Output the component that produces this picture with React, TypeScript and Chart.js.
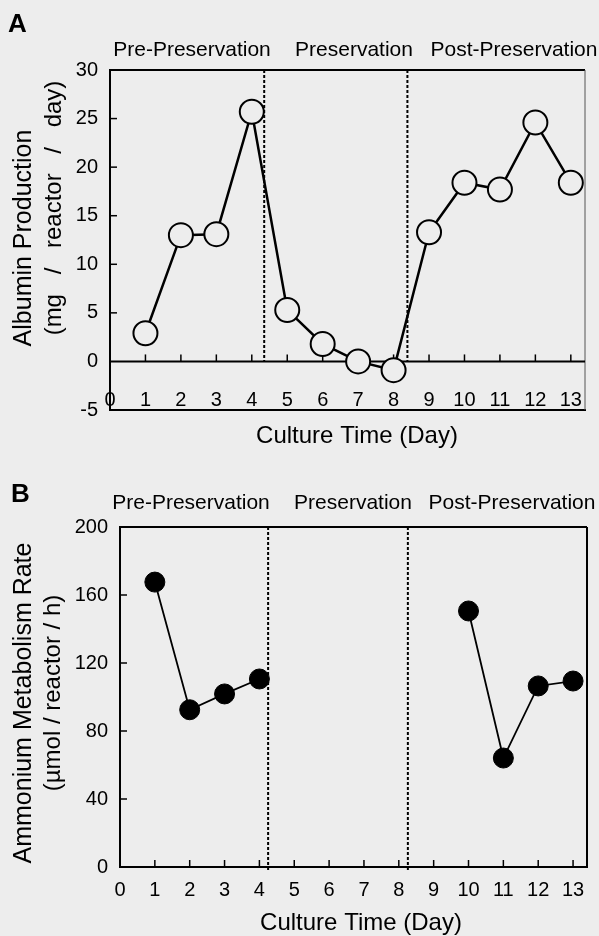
import React, { useEffect, useRef } from 'react';
import { Chart, registerables } from 'chart.js';

Chart.register(...registerables);

const FONT = '"Liberation Sans", Arial, Helvetica, sans-serif';
const BG = '#ededed';
const INK = '#000000';

// ---------- Panel A : Albumin production ----------
const albuminDays = [1, 2, 3, 4, 5, 6, 7, 8, 9, 10, 11, 12, 13];
const albuminValues = [2.9, 13.0, 13.1, 25.7, 5.3, 1.8, 0.0, -0.9, 13.3, 18.4, 17.7, 24.6, 18.4];
const albuminYTicks = [-5, 0, 5, 10, 15, 20, 25, 30];
const albuminPhaseBounds = [4.35, 8.39];

// ---------- Panel B : Ammonium metabolism ----------
const ammoniumPreDays = [1, 2, 3, 4];
const ammoniumPreValues = [167.6, 92.5, 101.8, 110.6];
const ammoniumPostDays = [10, 11, 12, 13];
const ammoniumPostValues = [150.6, 64.1, 106.5, 109.4];
const ammoniumYTicks = [0, 40, 80, 120, 160, 200];
const ammoniumPhaseBounds = [4.25, 8.26];

// ---------- shared ----------
const dayTicks = [0, 1, 2, 3, 4, 5, 6, 7, 8, 9, 10, 11, 12, 13];
const phaseLabels = ['Pre-Preservation', 'Preservation', 'Post-Preservation'];
const xTitle = 'Culture Time (Day)';
const albuminYTitle = ['Albumin Production', '(mg / reactor / day)'];
const ammoniumYTitle = ['Ammonium Metabolism Rate', '(\u00B5mol / reactor / h)'];

function seg(ctx: CanvasRenderingContext2D, x1: number, y1: number, x2: number, y2: number) {
  ctx.beginPath();
  ctx.moveTo(x1, y1);
  ctx.lineTo(x2, y2);
  ctx.stroke();
}

function rotText(
  ctx: CanvasRenderingContext2D,
  text: string,
  cx: number,
  cy: number,
  font: string,
  wordSpacing?: string
) {
  ctx.save();
  ctx.translate(cx, cy);
  ctx.rotate(-Math.PI / 2);
  ctx.font = font;
  ctx.fillStyle = INK;
  ctx.textAlign = 'center';
  ctx.textBaseline = 'middle';
  if (wordSpacing) (ctx as any).wordSpacing = wordSpacing;
  ctx.fillText(text, 0, 0);
  ctx.restore();
}

function flatText(
  ctx: CanvasRenderingContext2D,
  text: string,
  x: number,
  y: number,
  font: string,
  align: CanvasTextAlign = 'center'
) {
  ctx.save();
  ctx.font = font;
  ctx.fillStyle = INK;
  ctx.textAlign = align;
  ctx.textBaseline = 'alphabetic';
  ctx.fillText(text, x, y);
  ctx.restore();
}

const bgPlugin = {
  id: 'bgFill',
  beforeDraw(chart: any) {
    const { ctx, width, height } = chart;
    ctx.save();
    ctx.fillStyle = BG;
    ctx.fillRect(0, 0, width, height);
    ctx.restore();
  },
};

interface PanelOpts {
  letter: string;
  yTitle: string[];
  yTitlePos: [number, number][];
  yTitleFonts: string[];
  yTitleSpacing: (string | undefined)[];
  phaseX: number[];
  phaseBaseline: number;
  xTitleX: number;
  xTitleBaseline: number;
  letterPos: [number, number];
  bounds: number[];
  yTicks: number[];
  zeroLine: boolean;
  rightBorderWidth: number;
  dashToBottomExtra: number;
}

function makeDecor(o: PanelOpts) {
  return {
    id: 'decor' + o.letter,
    beforeDatasetsDraw(chart: any) {
      const { ctx, chartArea: ca, scales } = chart;
      const x = scales.x;
      const y = scales.y;
      ctx.save();
      ctx.strokeStyle = INK;
      ctx.lineCap = 'butt';
      // top border
      ctx.lineWidth = 2;
      seg(ctx, ca.left - 1, ca.top, ca.right, ca.top);
      // right border
      ctx.lineWidth = o.rightBorderWidth;
      ctx.strokeStyle = o.rightBorderWidth < 2 ? '#555' : INK;
      seg(ctx, ca.right, ca.top, ca.right, ca.bottom);
      ctx.strokeStyle = INK;
      // base line where x ticks sit
      const base = o.zeroLine ? y.getPixelForValue(0) : ca.bottom;
      ctx.lineWidth = 2;
      if (o.zeroLine) seg(ctx, ca.left, base, ca.right, base);
      // x tick marks (pointing up)
      ctx.lineWidth = 1.5;
      dayTicks.forEach((d) => {
        if (d === 0) return;
        const px = x.getPixelForValue(d);
        seg(ctx, px, base, px, base - 7);
      });
      // y tick marks (pointing right)
      const yMin = o.yTicks[0];
      const yMax = o.yTicks[o.yTicks.length - 1];
      o.yTicks.forEach((v) => {
        if (v === yMin || v === yMax || (o.zeroLine && v === 0)) return;
        const py = y.getPixelForValue(v);
        seg(ctx, ca.left, py, ca.left + 7, py);
      });
      // dashed phase boundaries
      ctx.lineWidth = 2;
      ctx.setLineDash([3, 2]);
      o.bounds.forEach((b) => {
        const px = x.getPixelForValue(b);
        seg(ctx, px, ca.top, px, base + o.dashToBottomExtra);
      });
      ctx.restore();
    },
    afterDraw(chart: any) {
      const { ctx } = chart;
      flatText(ctx, o.letter, o.letterPos[0], o.letterPos[1], `bold 26px ${FONT}`, 'left');
      phaseLabels.forEach((t, i) => {
        flatText(ctx, t, o.phaseX[i], o.phaseBaseline, `21px ${FONT}`);
      });
      flatText(ctx, xTitle, o.xTitleX, o.xTitleBaseline, `24px ${FONT}`);
      o.yTitle.forEach((t, i) => {
        rotText(ctx, t, o.yTitlePos[i][0], o.yTitlePos[i][1], o.yTitleFonts[i], o.yTitleSpacing[i]);
      });
    },
  };
}

// x axis anchored at a value of the y scale (no label clipping)
function axisX(max: number, anchorY: number, labelPad: number) {
  return {
    type: 'linear' as const,
    position: { y: anchorY },
    min: 0,
    max,
    grid: { display: false, drawTicks: false },
    border: { display: true, color: INK, width: 2 },
    ticks: {
      font: { family: FONT, size: 20 },
      color: INK,
      padding: labelPad,
      maxRotation: 0,
      autoSkip: false,
    },
    afterBuildTicks: (s: any) => {
      s.ticks = dayTicks.map((v) => ({ value: v }));
    },
  };
}

function axisY(min: number, max: number, ticks: number[], width: number) {
  return {
    type: 'linear' as const,
    position: 'left' as const,
    min,
    max,
    grid: { display: false, drawTicks: false },
    border: { display: true, color: INK, width: 2 },
    ticks: {
      font: { family: FONT, size: 20 },
      color: INK,
      padding: 12,
    },
    afterBuildTicks: (s: any) => {
      s.ticks = ticks.map((v) => ({ value: v }));
    },
    afterFit: (s: any) => {
      s.width = width;
    },
  };
}

function buildA(canvas: HTMLCanvasElement) {
  const decor = makeDecor({
    letter: 'A',
    yTitle: albuminYTitle,
    yTitlePos: [
      [24, 238],
      [54, 208],
    ],
    yTitleFonts: [`25px ${FONT}`, `24px ${FONT}`],
    yTitleSpacing: [undefined, '13px'],
    phaseX: [192, 354, 514],
    phaseBaseline: 56,
    xTitleX: 357,
    xTitleBaseline: 443,
    letterPos: [8, 32],
    bounds: albuminPhaseBounds,
    yTicks: albuminYTicks,
    zeroLine: true,
    rightBorderWidth: 1,
    dashToBottomExtra: 0,
  });
  return new Chart(canvas, {
    type: 'line',
    data: {
      datasets: [
        {
          data: albuminDays.map((d, i) => ({ x: d, y: albuminValues[i] })),
          borderColor: INK,
          borderWidth: 2.5,
          pointRadius: 12,
          pointHoverRadius: 12,
          pointBackgroundColor: BG,
          pointBorderColor: INK,
          pointBorderWidth: 2,
          tension: 0,
          clip: false as any,
        },
      ],
    },
    options: {
      responsive: false,
      animation: false,
      events: [],
      layout: { padding: { left: 0, top: 70, right: 2, bottom: 58 } },
      plugins: { legend: { display: false }, tooltip: { enabled: false } },
      scales: {
        x: axisX(13.4, -5, -22) as any,
        y: axisY(-5, 30, albuminYTicks, 110) as any,
      },
    },
    plugins: [bgPlugin, decor],
  });
}

function buildB(canvas: HTMLCanvasElement) {
  const decor = makeDecor({
    letter: 'B',
    yTitle: ammoniumYTitle,
    yTitlePos: [
      [24, 235],
      [53, 225],
    ],
    yTitleFonts: [`25px ${FONT}`, `24px ${FONT}`],
    yTitleSpacing: [undefined, undefined],
    phaseX: [191, 353, 512],
    phaseBaseline: 41,
    xTitleX: 361,
    xTitleBaseline: 462,
    letterPos: [11, 34],
    bounds: ammoniumPhaseBounds,
    yTicks: ammoniumYTicks,
    zeroLine: false,
    rightBorderWidth: 2,
    dashToBottomExtra: 4,
  });
  const ds = (days: number[], vals: number[]) => ({
    data: days.map((d, i) => ({ x: d, y: vals[i] })),
    borderColor: INK,
    borderWidth: 1.8,
    pointRadius: 10,
    pointHoverRadius: 10,
    pointBackgroundColor: INK,
    pointBorderColor: INK,
    pointBorderWidth: 1,
    tension: 0,
    clip: false as any,
  });
  return new Chart(canvas, {
    type: 'line',
    data: {
      datasets: [ds(ammoniumPreDays, ammoniumPreValues), ds(ammoniumPostDays, ammoniumPostValues)],
    },
    options: {
      responsive: false,
      animation: false,
      events: [],
      layout: { padding: { left: 0, top: 59, right: 12, bottom: 69 } },
      plugins: { legend: { display: false }, tooltip: { enabled: false } },
      scales: {
        x: axisX(13.4, 0, 11) as any,
        y: axisY(0, 200, ammoniumYTicks, 120) as any,
      },
    },
    plugins: [bgPlugin, decor],
  });
}

export default function App() {
  const refA = useRef<HTMLCanvasElement>(null);
  const refB = useRef<HTMLCanvasElement>(null);

  useEffect(() => {
    const a = buildA(refA.current!);
    const b = buildB(refB.current!);
    return () => {
      a.destroy();
      b.destroy();
    };
  }, []);

  return (
    <div
      style={{
        position: 'absolute',
        left: 0,
        top: 0,
        width: 599,
        height: 936,
        background: BG,
        overflow: 'hidden',
      }}
    >
      <canvas ref={refA} width={599} height={468} style={{ display: 'block', width: 599, height: 468 }} />
      <canvas ref={refB} width={599} height={468} style={{ display: 'block', width: 599, height: 468 }} />
    </div>
  );
}
